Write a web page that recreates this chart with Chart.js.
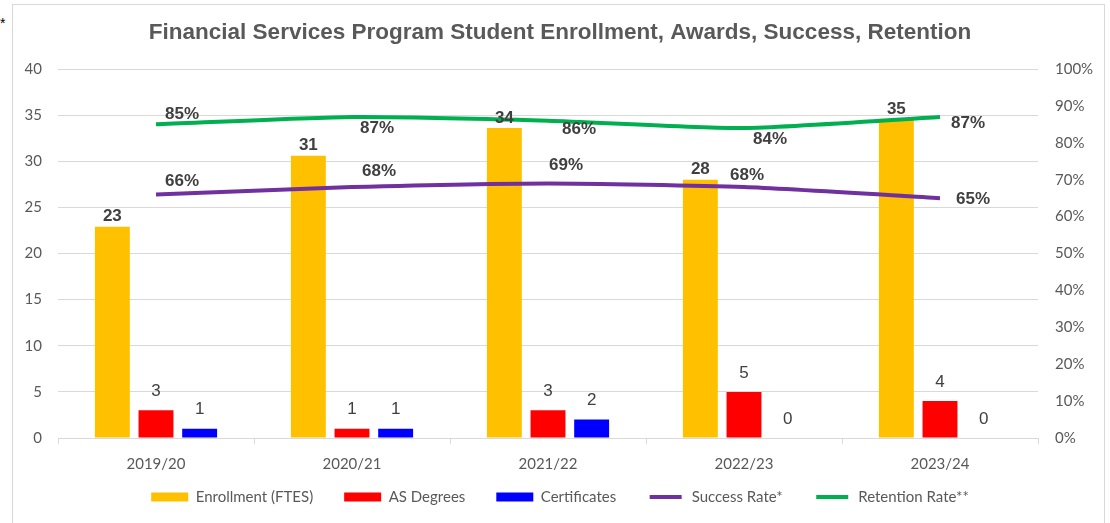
<!DOCTYPE html>
<html>
<head>
<meta charset="utf-8">
<script src="https://cdn.jsdelivr.net/npm/chart.js@4.4.1/dist/chart.umd.min.js"></script>
<style>
  html, body { margin: 0; padding: 0; background: #fff; }
  #wrap { position: relative; width: 1110px; height: 523px; overflow: hidden; }
  #frame { position: absolute; left: 12px; top: 4px; width: 1091px; height: 540px; border: 1px solid #d9d9d9; }
  #star { position: absolute; left: 0px; top: 15px; font: 14px "Liberation Sans", Arial, sans-serif; color: #000; }
  canvas { position: absolute; left: 0; top: 0; }
</style>
</head>
<body>
<div id="wrap">
  <div id="frame"></div>
  <span id="star">*</span>
  <canvas id="chart" width="1110" height="523"></canvas>
</div>
<script>
// chart data
const years = ['2019/20', '2020/21', '2021/22', '2022/23', '2023/24'];
const enrollment = [22.9, 30.6, 33.6, 28.0, 34.6];
const asDegrees = [3, 1, 3, 5, 4];
const certificates = [1, 1, 2, 0, 0];
const successRate = [0.66, 0.68, 0.69, 0.68, 0.65];
const retentionRate = [0.85, 0.87, 0.86, 0.84, 0.87];

const leftTicks = [0, 5, 10, 15, 20, 25, 30, 35, 40];
const rightTicks = [0, 0.1, 0.2, 0.3, 0.4, 0.5, 0.6, 0.7, 0.8, 0.9, 1.0];

const LABEL_COLOR = '#404040';
const AXIS_COLOR = '#595959';
const GRID_COLOR = '#d9d9d9';
const AXIS_FONT = "Lato, 'Open Sans', sans-serif";
const LABEL_FONT = "'Liberation Sans', Arial, sans-serif";

// where each line label sits relative to its point (Excel put them by hand)
const lineLabelOffsets = {
  success: [[26, -13], [27, -16], [18, -18], [3, -12], [33, 1]],
  retention: [[26, -10], [25, 11], [31, 9], [26, 11], [28, 6]],
};

// draws value labels on bars and lines
const valueLabels = {
  id: 'valueLabels',
  afterDatasetsDraw(chart) {
    const ctx = chart.ctx;
    ctx.save();
    ctx.textAlign = 'center';
    ctx.textBaseline = 'middle';
    ctx.fillStyle = LABEL_COLOR;
    chart.data.datasets.forEach((ds, di) => {
      const meta = chart.getDatasetMeta(di);
      if (meta.hidden) return;
      meta.data.forEach((el, i) => {
        const v = ds.data[i];
        if (ds.type === 'line') {
          const off = lineLabelOffsets[ds.key][i];
          ctx.font = `bold 17px ${LABEL_FONT}`;
          ctx.fillText(Math.round(v * 100) + '%', el.x + off[0], el.y + off[1]);
        } else if (ds.key === 'enroll') {
          ctx.font = `bold 17px ${LABEL_FONT}`;
          ctx.fillText(String(Math.round(v)), el.x, el.y - 10);
        } else {
          ctx.font = `17px ${LABEL_FONT}`;
          ctx.fillText(String(v), el.x, el.y - 19);
        }
      });
    });
    ctx.restore();
  }
};

// the wide legend spacing eats into the x axis box, so give the tick labels room
// again after layout (scales clip their labels to their own box)
const roomForXLabels = {
  id: 'roomForXLabels',
  afterLayout(chart) {
    const x = chart.scales.x;
    x.bottom = x.top + 45;
  }
};

const barStyle = { yAxisID: 'y', order: 1, categoryPercentage: 0.668, barPercentage: 0.8 };

new Chart(document.getElementById('chart'), {
  data: {
    labels: years,
    datasets: [
      { type: 'bar', key: 'enroll', label: 'Enrollment (FTES)', data: enrollment, backgroundColor: '#FFC000', ...barStyle },
      { type: 'bar', key: 'as', label: 'AS Degrees', data: asDegrees, backgroundColor: '#FF0000', ...barStyle },
      { type: 'bar', key: 'cert', label: 'Certificates', data: certificates, backgroundColor: '#0000FF', ...barStyle },
      {
        type: 'line', key: 'success', label: 'Success Rate*', data: successRate,
        borderColor: '#7030A0', backgroundColor: '#7030A0', borderWidth: 4,
        pointRadius: 0, tension: 0.2, yAxisID: 'y1', order: 0,
      },
      {
        type: 'line', key: 'retention', label: 'Retention Rate**', data: retentionRate,
        borderColor: '#00B050', backgroundColor: '#00B050', borderWidth: 4,
        pointRadius: 0, tension: 0.2, yAxisID: 'y1', order: 0,
      },
    ],
  },
  options: {
    responsive: false,
    animation: false,
    layout: { padding: { left: 10, right: 0, top: 0, bottom: 8.5 } },
    plugins: {
      title: {
        display: true,
        text: 'Financial Services Program Student Enrollment, Awards, Success, Retention',
        color: AXIS_COLOR,
        font: { family: LABEL_FONT, size: 22.5, weight: 'bold' },
        padding: { top: 19, bottom: 23 },
      },
      legend: {
        position: 'bottom',
        labels: {
          color: AXIS_COLOR,
          font: { family: AXIS_FONT, size: 15 },
          boxWidth: 37,
          boxHeight: 9,
          padding: 31,
          generateLabels(chart) {
            return chart.data.datasets.map((ds, i) => {
              const isLine = ds.type === 'line';
              return {
                text: ds.label,
                fillStyle: ds.backgroundColor,
                // white stroke trims the box down to a thick line for line series
                strokeStyle: '#ffffff',
                lineWidth: isLine ? 5 : 0,
                fontColor: AXIS_COLOR,
                hidden: false,
                datasetIndex: i,
              };
            });
          },
        },
      },
      tooltip: { enabled: false },
    },
    scales: {
      x: {
        grid: { display: true, drawOnChartArea: false, offset: true, tickLength: 6, color: GRID_COLOR },
        border: { color: GRID_COLOR },
        ticks: { color: AXIS_COLOR, font: { family: AXIS_FONT, size: 15 }, padding: 11 },
        afterFit(scale) { scale.height = 20.5; },
      },
      y: {
        position: 'left',
        min: 0, max: 40,
        afterBuildTicks(scale) { scale.ticks = leftTicks.map(v => ({ value: v })); },
        grid: { color: GRID_COLOR, drawTicks: false },
        border: { display: false },
        ticks: { color: AXIS_COLOR, font: { family: AXIS_FONT, size: 15 }, padding: 16 },
        afterFit(scale) { scale.width = 48; },
      },
      y1: {
        position: 'right',
        min: 0, max: 1,
        afterBuildTicks(scale) { scale.ticks = rightTicks.map(v => ({ value: v })); },
        grid: { drawOnChartArea: false, drawTicks: false },
        border: { display: false },
        ticks: {
          color: AXIS_COLOR, font: { family: AXIS_FONT, size: 15 }, padding: 17,
          callback: (v) => Math.round(v * 100) + '%',
        },
        afterFit(scale) { scale.width = 72; },
      },
    },
  },
  plugins: [valueLabels, roomForXLabels],
});
</script>
</body>
</html>
